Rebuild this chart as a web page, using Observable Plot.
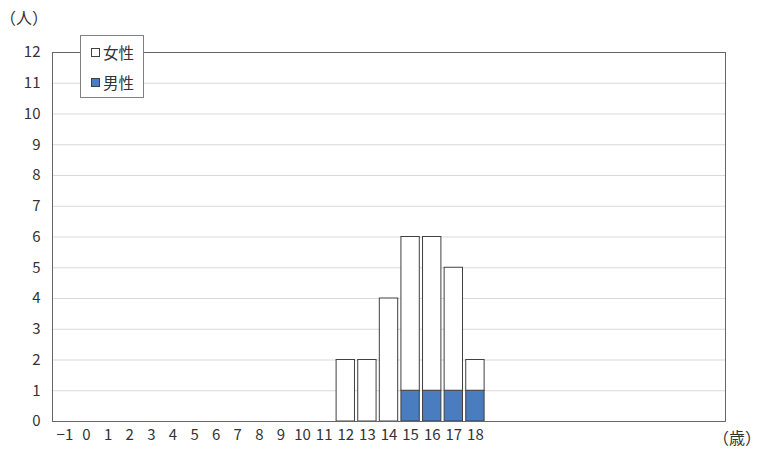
<!DOCTYPE html>
<html><head><meta charset="utf-8">
<script src="https://cdn.jsdelivr.net/npm/d3@7"></script>
<script src="https://cdn.jsdelivr.net/npm/@observablehq/plot@0.6"></script>
<style>
html,body{margin:0;padding:0;background:#fff;}
#wrap{position:relative;width:761px;height:450px;font-family:"Noto Sans CJK JP","Noto Sans",sans-serif;color:#333;}
.unit{position:absolute;font-size:16px;color:#333;}
#legend{position:absolute;left:80px;top:35px;width:62px;height:61px;border:1px solid #808080;background:#fff;font-size:15.5px;}
#legend .row{position:absolute;left:10px;display:flex;align-items:center;}
#legend .sw{width:7px;height:7px;border:1px solid #404040;margin-right:3px;}
</style></head>
<body>
<div id="wrap"></div>
<script>
const ages = [-1,0,1,2,3,4,5,6,7,8,9,10,11,12,13,14,15,16,17,18];
const female = [0,0,0,0,0,0,0,0,0,0,0,0,0,2,2,4,5,5,4,1];
const male   = [0,0,0,0,0,0,0,0,0,0,0,0,0,0,0,0,1,1,1,1];
const yTicks = [0,1,2,3,4,5,6,7,8,9,10,11,12];
const seriesNames = ["男性","女性"];
const seriesColors = ["#4a7cc0","#ffffff"];

const rows = [];
ages.forEach((a,i)=>{
  if (male[i]) rows.push({age:a, sex:"男性", n:male[i]});
  if (female[i]) rows.push({age:a, sex:"女性", n:female[i]});
});
// x band domain extends beyond labelled ages (empty slots on the right)
const xDomain = d3.range(-1, 30);

const chart = Plot.plot({
  width: 761, height: 450,
  marginLeft: 52, marginRight: 36, marginTop: 52, marginBottom: 29,
  style: {fontFamily: '"Noto Sans CJK JP","Noto Sans",sans-serif', fontSize: "15px", color: "#333", background: "#fff"},
  x: {type: "band", domain: xDomain, padding: 0.15, round: false, label: null},
  y: {domain: [0, 12], label: null},
  color: {domain: seriesNames, range: seriesColors},
  marks: [
    Plot.gridY(yTicks, {stroke: "#d9d9d9", strokeOpacity: 1}),
    Plot.barY(rows, Plot.stackY({x: "age", y: "n", fill: "sex", order: seriesNames, stroke: "#404040", strokeWidth: 1})),
    Plot.frame({stroke: "#666"}),
    Plot.axisY(yTicks, {tickSize: 0, tickPadding: 12, fontSize: 15, fill: "#333"}),
    Plot.axisX(ages, {tickSize: 0, tickPadding: 8, fontSize: 15, fill: "#333", tickFormat: d => d < 0 ? "\u2212" + Math.abs(d) : String(d)})
  ]
});
const wrap = document.getElementById("wrap");
wrap.appendChild(chart);

const u1 = document.createElement("div"); u1.className="unit"; u1.textContent="（人）";
u1.style.left="0px"; u1.style.top="5px"; wrap.appendChild(u1);
const u2 = document.createElement("div"); u2.className="unit"; u2.textContent="（歳）";
u2.style.left="713px"; u2.style.top="425px"; wrap.appendChild(u2);

const lg = document.createElement("div"); lg.id="legend";
[["女性","#ffffff",5],["男性","#4a7cc0",35]].forEach(([name,col,top])=>{
  const r=document.createElement("div"); r.className="row"; r.style.top=top+"px";
  const s=document.createElement("span"); s.className="sw"; s.style.background=col;
  const t=document.createElement("span"); t.textContent=name;
  r.appendChild(s); r.appendChild(t); lg.appendChild(r);
});
wrap.appendChild(lg);
</script>
</body></html>
